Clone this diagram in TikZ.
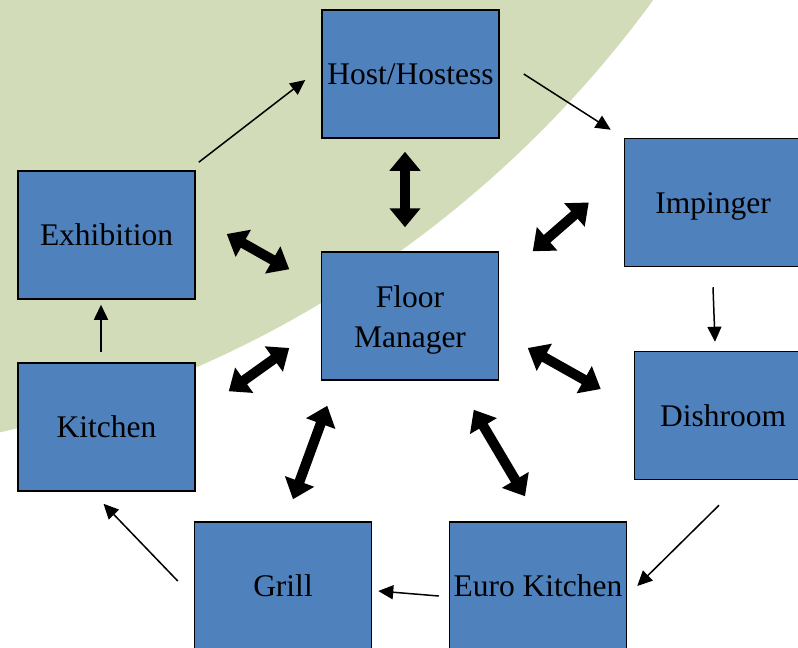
\documentclass[tikz,border=0pt]{standalone}
\usepackage{fontspec}
\setmainfont{Liberation Serif}
\newfontfamily\stationfont{Liberation Serif}
\usetikzlibrary{arrows.meta,calc}
\definecolor{boxblue}{HTML}{4F81BD}
\definecolor{sage}{HTML}{D2DCB8}
\begin{document}
\begin{tikzpicture}[x=1pt, y=-1pt,
  station/.style = {shape=rectangle, draw=black, line width=1.5pt,
    fill=boxblue, align=center, inner sep=0pt,
    minimum width=177pt, minimum height=128pt,
    text height=22pt, text depth=1pt,
    font=\stationfont\fontsize{31.5}{40}\selectfont},
  twoline/.style = {text height=63pt, text depth=1pt},
  flow/.style = {line width=1.5pt, -{Triangle[length=15pt,width=14pt]}},
  link/.style = {line width=10pt,
    {Triangle[length=19pt,width=30pt]}-{Triangle[length=19pt,width=30pt]}}]
  \useasboundingbox (0,0) rectangle (798,648);
  \clip (0,0) rectangle (798,648);
  \fill[white] (0,0) rectangle (798,648);
  \fill[sage] (-253,-660) circle[radius=1121];
  % stations
  \node[station] (host)  at (410.5,74)  {Host/Hostess};
  \node[station] (imp)   at (713,202.5) {Impinger};
  \node[station] (exhib) at (106.5,235) {Exhibition};
  \node[station,twoline] (fm) at (410,316) {Floor\\Manager};
  \node[station] (kitch) at (106.5,427) {Kitchen};
  \node[station] (dish)  at (723,415.5) {Dishroom};
  \node[station] (grill) at (283,586)   {Grill};
  \node[station] (euro)  at (538,586)   {Euro Kitchen};
  % the round of the stations
  \draw[flow] ($(exhib.north east)+(3,-8)$) -- ($(host.west)+(-16,6)$);
  \draw[flow] ($(host.east)+(24,0)$) -- ($(imp.north west)+(-13,-8)$);
  \draw[flow] ($(imp.south)+(0,20)$) -- ($(dish.north)+(-8,-9)$);
  \draw[flow] ($(dish.south)+(-4,25)$) -- ($(euro.east)+(10,0)$);
  \draw[flow] ($(euro.west)+(-10,10)$) -- ($(grill.east)+(6,5)$);
  \draw[flow] ($(grill.west)+(-16,-5)$) -- ($(kitch.south)+(-3,12)$);
  \draw[flow] ($(kitch.north)+(-5.5,-10)$) -- ($(exhib.south)+(-5.5,5)$);
  % floor manager links
  \draw[link] ($(host.south)+(-5.5,13)$) -- ($(fm.north)+(-5,-24)$);
  \draw[link] ($(fm.north east)+(33.5,0)$) -- ($(imp.west)+(-35,0)$);
  \draw[link] ($(exhib.east)+(31,-1)$) -- ($(fm.north west)+(-31.5,18)$);
  \draw[link] ($(fm.west)+(-31.5,32)$) -- ($(kitch.north east)+(33,29)$);
  \draw[link] ($(fm.south west)+(6.5,25)$) -- ($(grill.north)+(10,-22)$);
  \draw[link] ($(fm.south east)+(-25.5,29)$) -- ($(euro.north)+(-13,-25)$);
  \draw[link] ($(fm.east)+(28.5,32)$) -- ($(dish.west)+(-33,-26.5)$);
\end{tikzpicture}
\end{document}
